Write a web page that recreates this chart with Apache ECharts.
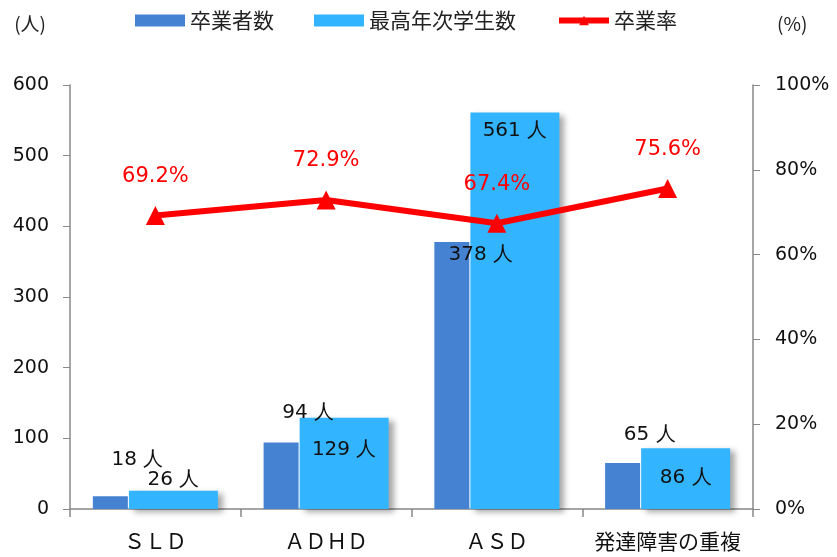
<!DOCTYPE html>
<html><head><meta charset="utf-8">
<script src="https://cdn.jsdelivr.net/npm/echarts@6/dist/echarts.min.js"></script>
<style>html,body{margin:0;padding:0;background:#fff}#c{width:837px;height:557px}</style>
</head><body><div id="c"></div>
<script>
const categories = ['ＳＬＤ', 'ＡＤＨＤ', 'ＡＳＤ', '発達障害の重複'];
const graduates = [18, 94, 378, 65];
const seniors = [26, 129, 561, 86];
const rate = [69.2, 72.9, 67.4, 75.6];
const leftTicks = [0, 100, 200, 300, 400, 500, 600];
const rightTicks = [0, 20, 40, 60, 80, 100];

const numFont = 'DejaVu Sans, Verdana, sans-serif';
const cjkFont = 'Noto Sans CJK JP, sans-serif';
const lblBase = {show: true, fontFamily: numFont, fontSize: 20, color: '#111', formatter: p => p.value + ' 人'};

const gradLabels = [
  {position: 'top', distance: 26, offset: [27, 0]},
  {position: 'top', distance: 20, offset: [27, 0]},
  {position: 'insideTop', distance: 3, offset: [29, 0]},
  {position: 'top', distance: 18, offset: [27, 0]}
];
const senLabels = [
  {position: 'top', distance: 1},
  {position: 'insideTop', distance: 22},
  {position: 'insideTop', distance: 8},
  {position: 'insideTop', distance: 20}
];

const chart = echarts.init(document.getElementById('c'));
chart.setOption({
  animation: false,
  grid: {left: 70, right: 84, top: 85, bottom: 48},
  legend: {
    top: 5, left: 130, itemWidth: 50, itemHeight: 12, itemGap: 40,
    textStyle: {fontFamily: cjkFont, fontSize: 21, color: '#222'},
    data: [
      {name: '卒業者数', icon: 'rect'},
      {name: '最高年次学生数', icon: 'rect'},
      {name: '卒業率', itemStyle: {color: '#ff0000'}, lineStyle: {width: 6, color: '#ff0000'}}
    ]
  },
  xAxis: {
    type: 'category', data: categories,
    axisLine: {lineStyle: {color: '#888', width: 1.5}},
    axisTick: {show: true, interval: 0, length: 8, lineStyle: {color: '#888', width: 1.5}},
    axisLabel: {interval: 0, fontFamily: cjkFont, fontSize: 21, color: '#111', margin: 22}
  },
  yAxis: [{
    type: 'value', min: 0, max: 600, interval: 100,
    name: '(人)', nameLocation: 'end', nameGap: 52,
    nameTextStyle: {fontFamily: cjkFont, fontSize: 19, color: '#222', align: 'right', padding: [0, 24, 0, 0]},
    axisLine: {show: true, lineStyle: {color: '#888', width: 1.5}},
    axisTick: {show: true, length: 7, lineStyle: {color: '#888'}},
    splitLine: {show: false},
    axisLabel: {fontFamily: numFont, fontSize: 19, color: '#111', margin: 21,
      formatter: v => leftTicks.includes(v) ? String(v) : ''}
  }, {
    type: 'value', min: 0, max: 100, interval: 20,
    name: '(%)', nameLocation: 'end', nameGap: 52,
    nameTextStyle: {fontFamily: cjkFont, fontSize: 19, color: '#222', align: 'left', padding: [0, 0, 0, 24]},
    axisLine: {show: true, lineStyle: {color: '#888', width: 1.5}},
    axisTick: {show: true, length: 7, lineStyle: {color: '#888'}},
    splitLine: {show: false},
    axisLabel: {fontFamily: numFont, fontSize: 19, color: '#111', margin: 22,
      formatter: v => rightTicks.includes(v) ? v + '%' : ''}
  }],
  series: [{
    name: '卒業者数', type: 'bar', barWidth: 35, barGap: '3%',
    itemStyle: {color: '#4682d2'},
    data: graduates.map((v, i) => ({value: v, label: Object.assign({}, lblBase, gradLabels[i])})),
    z: 2
  }, {
    name: '最高年次学生数', type: 'bar', barWidth: 89,
    itemStyle: {color: '#33b4ff', shadowColor: 'rgba(0,0,0,0.35)', shadowBlur: 6, shadowOffsetX: 5, shadowOffsetY: 3},
    data: seniors.map((v, i) => ({value: v, label: Object.assign({}, lblBase, senLabels[i])})),
    z: 2
  }, {
    name: '卒業率', type: 'line', yAxisIndex: 1,
    data: rate,
    symbol: 'triangle', symbolSize: 19,
    lineStyle: {color: '#ff0000', width: 6},
    itemStyle: {color: '#ff0000'},
    label: {show: true, position: 'top', distance: 19, color: '#ff0000', fontFamily: numFont, fontSize: 21,
      formatter: p => p.value.toFixed(1) + '%'},
    z: 5
  }]
});
</script></body></html>
